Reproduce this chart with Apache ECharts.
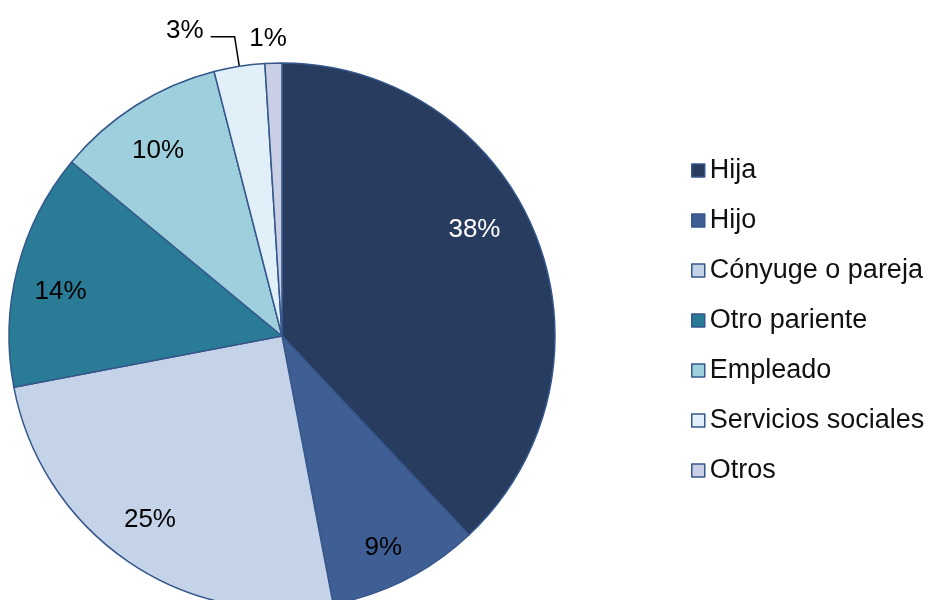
<!DOCTYPE html>
<html>
<head>
<meta charset="utf-8">
<script src="https://cdn.jsdelivr.net/npm/echarts@6/dist/echarts.min.js"></script>
<style>
  html, body { margin: 0; padding: 0; background: #ffffff; }
  #chart { width: 928px; height: 600px; }
</style>
</head>
<body>
<div id="chart"></div>
<script>
// Who provides the care: share of each caregiver type (%)
const categories = ['Hija', 'Hijo', 'Cónyuge o pareja', 'Otro pariente', 'Empleado', 'Servicios sociales', 'Otros'];
const shares = [38, 9, 25, 14, 10, 3, 1];
const sliceColors = ['#283c5f', '#3f5f94', '#c5d3e8', '#2a7b96', '#9ecfdc', '#e1f0f8', '#c9cfe5'];
const labelColors = ['#ffffff', '#000000', '#000000', '#000000', '#000000', '#000000', '#000000'];

const edgeColor = '#35578c';
const center = [282, 336];
const outerR = 273;
const fontFamily = 'Liberation Sans, Arial, sans-serif';

// Small nudges so each percentage sits where it reads best inside its slice
const labelNudge = {
  'Hija': [-21, -22],
  'Hijo': [-3, 7],
  'Cónyuge o pareja': [-3, -6],
  'Otro pariente': [1, 13],
  'Empleado': [-1, 9],
  'Servicios sociales': [-2, -6],
  'Otros': [19, -4]
};

const chart = echarts.init(document.getElementById('chart'), null, { renderer: 'canvas' });

const sliceData = categories.map((name, i) => ({
  name,
  value: shares[i],
  itemStyle: { color: sliceColors[i] }
}));

// Label layer: same slices in a transparent ring so inside labels sit near the rim
const labelData = categories.map((name, i) => {
  const item = {
    name,
    value: shares[i],
    label: { color: labelColors[i] }
  };
  if (name === 'Servicios sociales') {
    item.label.position = 'outside';
    item.labelLine = { show: true, length: 30, length2: 24 };
  } else if (name === 'Otros') {
    item.label.position = 'outside';
    item.labelLine = { show: false, length: 20, length2: 0 };
  }
  return item;
});

chart.setOption({
  animation: false,
  legend: {
    orient: 'vertical',
    left: 686,
    top: 152,
    itemWidth: 13,
    itemHeight: 13,
    itemGap: 23,
    icon: 'rect',
    selectedMode: false,
    data: categories,
    itemStyle: { borderColor: edgeColor, borderWidth: 1.5 },
    textStyle: {
      fontFamily: fontFamily,
      fontSize: 27,
      lineHeight: 27,
      color: '#111111'
    }
  },
  series: [
    {
      type: 'pie',
      center: center,
      radius: [0, outerR],
      startAngle: 90,
      clockwise: true,
      silent: true,
      data: sliceData,
      itemStyle: { borderColor: edgeColor, borderWidth: 1.5 },
      label: { show: false },
      labelLine: { show: false }
    },
    {
      type: 'pie',
      center: center,
      radius: [outerR * 0.66, outerR],
      startAngle: 90,
      clockwise: true,
      silent: true,
      avoidLabelOverlap: false,
      data: labelData,
      itemStyle: { color: 'rgba(0,0,0,0)', borderWidth: 0 },
      label: {
        show: true,
        position: 'inside',
        formatter: '{c}%',
        fontFamily: fontFamily,
        fontSize: 26
      },
      labelLine: { lineStyle: { color: '#000000', width: 1.5 } },
      labelLayout: function (p) {
        const n = labelNudge[categories[p.dataIndex]] || [0, 0];
        return { dx: n[0], dy: n[1] };
      }
    }
  ]
});
</script>
</body>
</html>
